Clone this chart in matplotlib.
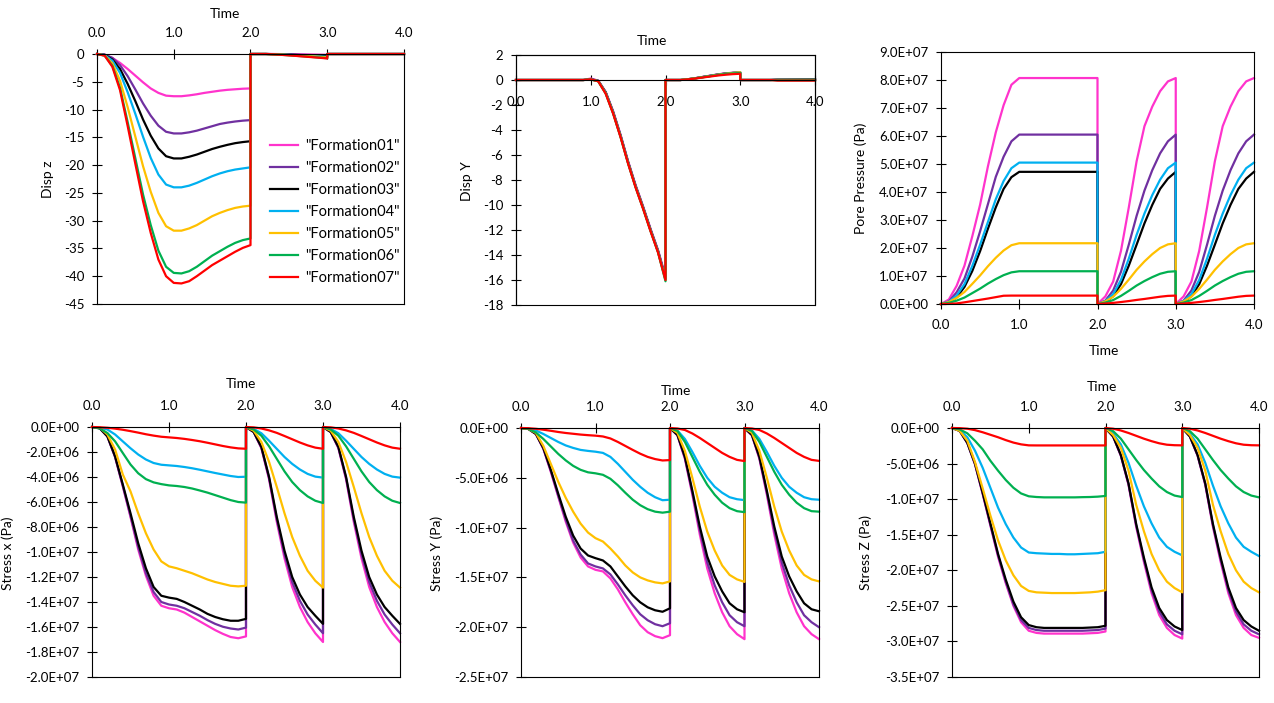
import matplotlib.pyplot as plt
from matplotlib.ticker import FixedLocator, FuncFormatter

plt.rcParams['font.family'] = ['Lato', 'DejaVu Sans']

names = ['"Formation01"', '"Formation02"', '"Formation03"', '"Formation04"',
         '"Formation05"', '"Formation06"', '"Formation07"']
colors = ['#FF33CC', '#7030A0', '#000000', '#00B0F0', '#FFC000', '#00B050', '#FF0000']

# time grids (the repeated 2.0 / 3.0 give the vertical jumps)
t_full = [0.0, 0.1, 0.2, 0.3, 0.4, 0.5, 0.6, 0.7, 0.8, 0.9, 1.0,
          1.1, 1.2, 1.3, 1.4, 1.5, 1.6, 1.7, 1.8, 1.9, 2.0,
          2.0, 2.1, 2.2, 2.3, 2.4, 2.5, 2.6, 2.7, 2.8, 2.9, 3.0,
          3.0, 3.1, 3.2, 3.3, 3.4, 3.5, 3.6, 3.7, 3.8, 3.9, 4.0]
t_dispy = [0.0, 0.9, 1.0, 1.1, 1.2, 1.3, 1.4, 1.5, 1.6, 1.7, 1.8, 1.9, 2.0,
           2.0, 2.1, 2.2, 2.3, 2.4, 2.5, 2.6, 2.7, 2.8, 2.9, 3.0,
           3.0, 3.4, 3.5, 4.0]
t_pore = [0.0, 0.1, 0.2, 0.3, 0.4, 0.5, 0.6, 0.7, 0.8, 0.9, 1.0, 2.0,
          2.0, 2.1, 2.2, 2.3, 2.4, 2.5, 2.6, 2.7, 2.8, 2.9, 3.0,
          3.0, 3.1, 3.2, 3.3, 3.4, 3.5, 3.6, 3.7, 3.8, 3.9, 4.0]

disp_z = [
    [0, -0.15, -0.7, -1.6, -2.7, -3.9, -5.1, -6.2, -7.0, -7.5, -7.6, -7.6, -7.45, -7.25, -7.0, -6.8, -6.6, -6.45, -6.35, -6.25, -6.2,
     0, 0, 0, 0, -0.02, -0.04, -0.06, -0.08, -0.1, -0.12, -0.15,
     0, 0, 0, 0, 0, 0, 0, 0, 0, 0, 0],
    [0, -0.1, -0.7, -2.0, -4.0, -6.4, -8.9, -11.1, -12.9, -14.0, -14.3, -14.3, -14.1, -13.8, -13.4, -13.0, -12.6, -12.35, -12.15, -12.0, -11.9,
     0, 0, 0, -0.02, -0.05, -0.08, -0.12, -0.16, -0.2, -0.25, -0.3,
     0, 0, 0, 0, 0, 0, 0, 0, 0, 0, 0],
    [0, -0.15, -1.0, -2.7, -5.4, -8.5, -11.8, -14.7, -17.0, -18.4, -18.8, -18.8, -18.5, -18.1, -17.6, -17.1, -16.7, -16.35, -16.05, -15.85, -15.7,
     0, 0, 0, -0.03, -0.07, -0.12, -0.17, -0.22, -0.28, -0.34, -0.4,
     0, 0, 0, 0, 0, 0, 0, 0, 0, 0, 0],
    [0, -0.2, -1.2, -3.4, -6.9, -10.8, -14.9, -18.7, -21.7, -23.5, -24.0, -24.0, -23.7, -23.2, -22.6, -22.0, -21.5, -21.1, -20.8, -20.6, -20.4,
     0, 0, 0, -0.04, -0.09, -0.15, -0.21, -0.28, -0.35, -0.43, -0.5,
     0, 0, 0, 0, 0, 0, 0, 0, 0, 0, 0],
    [0, -0.25, -1.7, -4.8, -9.6, -14.9, -20.2, -24.8, -28.6, -31.0, -31.8, -31.8, -31.4, -30.8, -30.0, -29.2, -28.6, -28.1, -27.7, -27.45, -27.3,
     0, 0, 0, -0.05, -0.11, -0.18, -0.26, -0.34, -0.42, -0.51, -0.6,
     0, 0, 0, 0, 0, 0, 0, 0, 0, 0, 0],
    [0, -0.3, -2.1, -6.1, -12.3, -18.8, -25.3, -30.8, -35.4, -38.3, -39.4, -39.5, -39.1, -38.3, -37.3, -36.3, -35.5, -34.7, -34.0, -33.5, -33.2,
     0, 0, 0, -0.06, -0.14, -0.23, -0.33, -0.43, -0.53, -0.64, -0.75,
     0, 0, 0, 0, 0, 0, 0, 0, 0, 0, 0],
    [0, -0.3, -2.3, -6.5, -13.0, -19.8, -26.5, -32.2, -37.0, -40.0, -41.2, -41.3, -40.9, -40.0, -39.0, -38.0, -37.2, -36.4, -35.6, -34.9, -34.4,
     0, 0, 0, -0.07, -0.15, -0.25, -0.35, -0.46, -0.57, -0.68, -0.8,
     0, 0, 0, 0, 0, 0, 0, 0, 0, 0, 0],
]

disp_y = [
    [0, 0, 0.12, -0.05, -0.95, -2.5, -4.4, -6.5, -8.4, -10.1, -11.9, -13.6, -15.7,
     0, 0, 0, 0.06, 0.15, 0.25, 0.35, 0.45, 0.53, 0.58, 0.6, 0, 0, 0.03, 0.05],
    [0, 0, 0.08, -0.06, -0.98, -2.55, -4.45, -6.55, -8.45, -10.15, -11.95, -13.65, -15.8,
     0, 0, 0, 0.06, 0.14, 0.24, 0.34, 0.44, 0.52, 0.57, 0.6, 0, 0, 0.03, 0.05],
    [0, 0, 0.05, -0.07, -1.0, -2.6, -4.5, -6.6, -8.5, -10.2, -12.0, -13.7, -15.9,
     0, 0, 0, 0.06, 0.14, 0.24, 0.33, 0.43, 0.51, 0.56, 0.6, 0, 0, 0.03, 0.05],
    [0, 0, 0.05, -0.08, -1.02, -2.62, -4.52, -6.62, -8.52, -10.22, -12.02, -13.72, -15.9,
     0, 0, 0, 0.06, 0.14, 0.23, 0.33, 0.42, 0.5, 0.56, 0.62, 0, 0, 0.02, 0.02],
    [0, 0, 0.04, -0.09, -1.05, -2.65, -4.55, -6.65, -8.55, -10.25, -12.05, -13.75, -16.0,
     0, 0, 0, 0.06, 0.14, 0.23, 0.32, 0.42, 0.5, 0.56, 0.62, 0, 0, 0.01, 0.01],
    [0, 0, 0.04, -0.1, -1.08, -2.68, -4.58, -6.68, -8.58, -10.28, -12.08, -13.78, -16.1,
     0, 0, 0, 0.05, 0.13, 0.22, 0.31, 0.4, 0.48, 0.53, 0.56, 0, 0, -0.02, -0.02],
    [0, 0, 0.05, -0.1, -1.1, -2.7, -4.6, -6.7, -8.6, -10.3, -12.1, -13.8, -16.0,
     0, 0, 0, 0.05, 0.12, 0.2, 0.28, 0.36, 0.42, 0.47, 0.5, 0, 0, -0.05, -0.05],
]

# pore pressure in MPa
pore = [
    [0, 1.6, 6.5, 13.7, 24.2, 35.5, 49.2, 61.3, 71.0, 78.3, 80.7, 80.7,
     0, 2.7, 8.0, 19.0, 34.5, 51.0, 63.5, 70.5, 76.0, 79.5, 80.7,
     0, 2.7, 8.0, 19.0, 34.5, 51.0, 63.5, 70.5, 76.0, 79.5, 80.7],
    [0, 0.9, 4.2, 9.1, 16.9, 26.0, 35.7, 45.4, 52.6, 58.1, 60.5, 60.5,
     0, 1.2, 4.8, 11.5, 21.2, 31.5, 40.5, 47.8, 53.8, 58.1, 60.5,
     0, 1.2, 4.8, 11.5, 21.2, 31.5, 40.5, 47.8, 53.8, 58.1, 60.5],
    [0, 0.5, 2.4, 6.1, 11.8, 18.9, 26.9, 34.5, 41.1, 45.3, 47.2, 47.2,
     0, 0.7, 2.8, 7.1, 13.7, 21.2, 28.8, 35.4, 41.1, 44.8, 47.2,
     0, 0.7, 2.8, 7.1, 13.7, 21.2, 28.8, 35.4, 41.1, 44.8, 47.2],
    [0, 0.8, 3.0, 7.1, 13.6, 21.2, 29.3, 37.4, 43.9, 48.5, 50.5, 50.5,
     0, 1.0, 3.5, 8.6, 16.2, 24.7, 32.3, 38.9, 44.4, 48.5, 50.5,
     0, 1.0, 3.5, 8.6, 16.2, 24.7, 32.3, 38.9, 44.4, 48.5, 50.5],
    [0, 0.7, 2.2, 4.3, 7.2, 10.2, 13.5, 16.5, 19.1, 21.0, 21.7, 21.7,
     0, 0.9, 2.6, 5.4, 8.7, 12.2, 15.2, 17.8, 20.0, 21.3, 21.7,
     0, 0.9, 2.6, 5.4, 8.7, 12.2, 15.2, 17.8, 20.0, 21.3, 21.7],
    [0, 0.4, 1.2, 2.3, 3.9, 5.5, 7.3, 8.9, 10.3, 11.3, 11.7, 11.7,
     0, 0.5, 1.4, 2.9, 4.7, 6.6, 8.2, 9.6, 10.8, 11.5, 11.7,
     0, 0.5, 1.4, 2.9, 4.7, 6.6, 8.2, 9.6, 10.8, 11.5, 11.7],
    [0, 0.03, 0.2, 0.6, 1.05, 1.5, 1.95, 2.45, 2.95, 3.0, 3.0, 3.0,
     0, 0.15, 0.4, 0.7, 1.05, 1.45, 1.8, 2.2, 2.6, 2.9, 3.0,
     0, 0.15, 0.4, 0.7, 1.05, 1.45, 1.8, 2.2, 2.6, 2.9, 3.0],
]

# stresses in MPa
stress_x = [
    [0, -0.1, -0.75, -2.4, -4.75, -7.2, -9.8, -11.9, -13.5, -14.3, -14.5, -14.6, -14.85, -15.2, -15.55, -15.9, -16.25, -16.55, -16.8, -16.9, -16.75,
     0, -0.4, -1.7, -4.2, -7.6, -10.5, -12.8, -14.4, -15.6, -16.5, -17.2,
     0, -0.4, -1.7, -4.2, -7.6, -10.5, -12.8, -14.4, -15.6, -16.5, -17.2],
    [0, -0.1, -0.75, -2.4, -4.7, -7.1, -9.6, -11.7, -13.2, -14.0, -14.2, -14.3, -14.5, -14.8, -15.1, -15.45, -15.75, -15.98, -16.12, -16.2, -16.05,
     0, -0.4, -1.65, -4.1, -7.4, -10.2, -12.4, -13.9, -15.0, -15.8, -16.5,
     0, -0.4, -1.65, -4.1, -7.4, -10.2, -12.4, -13.9, -15.0, -15.8, -16.5],
    [0, -0.1, -0.75, -2.35, -4.6, -6.9, -9.3, -11.3, -12.8, -13.5, -13.65, -13.75, -14.0, -14.3, -14.6, -14.95, -15.2, -15.38, -15.5, -15.5, -15.35,
     0, -0.4, -1.6, -4.0, -7.2, -9.9, -12.0, -13.4, -14.4, -15.1, -15.75,
     0, -0.4, -1.6, -4.0, -7.2, -9.9, -12.0, -13.4, -14.4, -15.1, -15.75],
    [0, -0.05, -0.2, -0.6, -1.15, -1.7, -2.2, -2.6, -2.88, -3.02, -3.07, -3.12, -3.2, -3.3, -3.42, -3.55, -3.68, -3.8, -3.92, -4.0, -3.98,
     0, -0.15, -0.5, -1.1, -1.75, -2.4, -2.95, -3.4, -3.75, -3.97, -4.05,
     0, -0.15, -0.5, -1.1, -1.75, -2.4, -2.95, -3.4, -3.75, -3.97, -4.05],
    [0, -0.05, -0.6, -1.8, -3.8, -5.15, -6.9, -8.5, -9.8, -10.75, -11.15, -11.3, -11.5, -11.7, -11.95, -12.2, -12.4, -12.55, -12.7, -12.75, -12.7,
     0, -0.3, -1.2, -2.8, -4.8, -6.9, -8.8, -10.3, -11.5, -12.3, -12.85,
     0, -0.3, -1.2, -2.8, -4.8, -6.9, -8.8, -10.3, -11.5, -12.3, -12.85],
    [0, -0.12, -0.48, -1.15, -2.08, -3.0, -3.7, -4.17, -4.43, -4.57, -4.67, -4.72, -4.8, -4.92, -5.08, -5.25, -5.45, -5.65, -5.85, -6.0, -6.05,
     0, -0.2, -0.7, -1.55, -2.55, -3.55, -4.4, -5.05, -5.55, -5.9, -6.08,
     0, -0.2, -0.7, -1.55, -2.55, -3.55, -4.4, -5.05, -5.55, -5.9, -6.08],
    [0, -0.02, -0.06, -0.13, -0.22, -0.33, -0.45, -0.58, -0.69, -0.78, -0.83, -0.88, -0.95, -1.04, -1.14, -1.26, -1.39, -1.52, -1.63, -1.71, -1.74,
     0, -0.03, -0.12, -0.27, -0.47, -0.72, -0.98, -1.24, -1.47, -1.65, -1.74,
     0, -0.03, -0.12, -0.27, -0.47, -0.72, -0.98, -1.24, -1.47, -1.65, -1.74],
]

stress_y = [
    [0, -0.1, -0.6, -2.1, -4.4, -6.9, -9.4, -11.5, -13.0, -13.9, -14.24, -14.4, -15.1, -16.2, -17.5, -18.7, -19.8, -20.5, -20.9, -21.1, -20.8,
     0, -0.75, -3.1, -6.7, -10.7, -14.1, -16.6, -18.5, -19.9, -20.7, -21.2,
     0, -0.75, -3.1, -6.7, -10.7, -14.1, -16.6, -18.5, -19.9, -20.7, -21.2],
    [0, -0.1, -0.6, -2.05, -4.3, -6.8, -9.2, -11.3, -12.7, -13.6, -13.9, -14.1, -14.7, -15.7, -16.8, -17.8, -18.7, -19.3, -19.7, -19.9, -19.6,
     0, -0.7, -3.0, -6.5, -10.3, -13.5, -15.8, -17.5, -18.8, -19.5, -19.9,
     0, -0.7, -3.0, -6.5, -10.3, -13.5, -15.8, -17.5, -18.8, -19.5, -20.0],
    [0, -0.1, -0.6, -2.0, -4.2, -6.6, -8.9, -10.8, -12.1, -12.8, -13.07, -13.3, -13.9, -14.9, -15.9, -16.8, -17.5, -18.0, -18.3, -18.45, -18.1,
     0, -0.7, -2.9, -6.3, -9.9, -12.9, -14.9, -16.4, -17.6, -18.2, -18.5,
     0, -0.7, -2.9, -6.3, -9.9, -12.9, -14.9, -16.4, -17.6, -18.2, -18.4],
    [0, -0.05, -0.25, -0.6, -1.0, -1.4, -1.75, -2.0, -2.2, -2.3, -2.38, -2.5, -2.9, -3.6, -4.4, -5.2, -5.9, -6.5, -6.95, -7.25, -7.2,
     0, -0.25, -1.1, -2.4, -3.8, -5.0, -5.9, -6.5, -6.95, -7.15, -7.24,
     0, -0.25, -1.1, -2.4, -3.8, -5.0, -5.9, -6.5, -6.95, -7.15, -7.2],
    [0, -0.1, -0.5, -1.8, -3.6, -5.4, -7.0, -8.4, -9.6, -10.5, -11.06, -11.4, -12.1, -12.9, -13.8, -14.5, -15.0, -15.3, -15.5, -15.6, -15.4,
     0, -0.5, -2.3, -5.0, -7.9, -10.4, -12.3, -13.8, -14.75, -15.2, -15.45,
     0, -0.5, -2.3, -5.0, -7.9, -10.4, -12.3, -13.8, -14.75, -15.2, -15.4],
    [0, -0.1, -0.45, -1.1, -1.85, -2.6, -3.25, -3.8, -4.2, -4.45, -4.55, -4.7, -5.1, -5.75, -6.5, -7.2, -7.75, -8.15, -8.4, -8.5, -8.4,
     0, -0.3, -1.4, -2.9, -4.4, -5.7, -6.7, -7.5, -8.05, -8.35, -8.45,
     0, -0.3, -1.4, -2.9, -4.4, -5.7, -6.7, -7.5, -8.05, -8.35, -8.4],
    [0, -0.02, -0.08, -0.17, -0.28, -0.4, -0.5, -0.58, -0.66, -0.72, -0.77, -0.85, -1.05, -1.4, -1.8, -2.2, -2.58, -2.9, -3.12, -3.26, -3.22,
     0, -0.05, -0.2, -0.55, -1.0, -1.5, -2.0, -2.5, -2.9, -3.2, -3.32,
     0, -0.05, -0.2, -0.55, -1.0, -1.5, -2.0, -2.5, -2.9, -3.2, -3.3],
]

stress_z = [
    [0, -0.4, -2.1, -5.1, -9.3, -13.7, -18.1, -21.8, -25.0, -27.3, -28.5, -28.8, -28.9, -28.9, -28.9, -28.9, -28.9, -28.9, -28.85, -28.8, -28.6,
     0, -1.2, -3.9, -8.0, -13.9, -18.8, -23.2, -26.3, -28.1, -29.1, -29.6,
     0, -1.2, -3.9, -8.0, -13.9, -18.8, -23.2, -26.3, -28.1, -29.1, -29.5],
    [0, -0.4, -2.1, -5.1, -9.2, -13.6, -17.9, -21.6, -24.8, -27.0, -28.1, -28.4, -28.5, -28.5, -28.5, -28.5, -28.5, -28.5, -28.45, -28.4, -28.2,
     0, -1.2, -3.85, -7.9, -13.7, -18.5, -22.8, -25.8, -27.6, -28.5, -29.0,
     0, -1.2, -3.85, -7.9, -13.7, -18.5, -22.8, -25.8, -27.6, -28.5, -29.0],
    [0, -0.4, -2.1, -5.0, -9.1, -13.4, -17.7, -21.3, -24.4, -26.6, -27.7, -28.0, -28.1, -28.1, -28.1, -28.1, -28.1, -28.1, -28.05, -28.0, -27.8,
     0, -1.2, -3.8, -7.8, -13.5, -18.2, -22.4, -25.3, -27.0, -27.9, -28.4,
     0, -1.2, -3.8, -7.8, -13.5, -18.2, -22.4, -25.3, -27.0, -27.9, -28.5],
    [0, -0.3, -1.3, -3.2, -5.6, -8.4, -11.2, -13.5, -15.4, -16.8, -17.5, -17.6, -17.65, -17.7, -17.7, -17.75, -17.75, -17.7, -17.65, -17.6, -17.4,
     0, -0.8, -2.3, -4.9, -8.1, -11.0, -13.4, -15.4, -16.7, -17.4, -17.9,
     0, -0.8, -2.3, -4.9, -8.1, -11.0, -13.4, -15.4, -16.7, -17.4, -18.0],
    [0, -0.4, -1.8, -4.8, -8.5, -12.3, -15.8, -18.6, -20.7, -22.2, -22.9, -23.1, -23.15, -23.2, -23.2, -23.2, -23.2, -23.15, -23.1, -23.0, -22.8,
     0, -1.0, -2.8, -6.0, -10.8, -14.5, -17.7, -20.0, -21.6, -22.5, -23.1,
     0, -1.0, -2.8, -6.0, -10.8, -14.5, -17.7, -20.0, -21.6, -22.5, -23.1],
    [0, -0.2, -0.75, -1.8, -3.0, -4.6, -6.0, -7.3, -8.4, -9.2, -9.6, -9.7, -9.75, -9.75, -9.75, -9.75, -9.75, -9.72, -9.7, -9.65, -9.55,
     0, -0.45, -1.5, -3.0, -4.5, -5.9, -7.1, -8.2, -9.0, -9.5, -9.71,
     0, -0.45, -1.5, -3.0, -4.5, -5.9, -7.1, -8.2, -9.0, -9.5, -9.75],
    [0, -0.02, -0.1, -0.3, -0.6, -0.95, -1.3, -1.7, -2.05, -2.3, -2.44, -2.45, -2.45, -2.45, -2.45, -2.45, -2.45, -2.45, -2.45, -2.45, -2.45,
     0, -0.1, -0.35, -0.7, -1.1, -1.5, -1.85, -2.15, -2.35, -2.42, -2.44,
     0, -0.1, -0.35, -0.7, -1.1, -1.5, -1.85, -2.15, -2.35, -2.42, -2.44],
]

W, H = 1274, 703
fig = plt.figure(figsize=(W / 100, H / 100), dpi=100)


def px_axes(left, top, right, bottom):
    return fig.add_axes([left / W, 1 - bottom / H, (right - left) / W, (bottom - top) / H])


def efmt(v, p):
    return f'{v:.1E}'


def ifmt(v, p):
    return f'{v:.0f}'


def style(ax, ylim, yticks, yfmt, xside):
    ax.set_xlim(0, 4)
    ax.set_ylim(*ylim)
    ax.xaxis.set_major_locator(FixedLocator([0, 1, 2, 3, 4]))
    ax.xaxis.set_major_formatter(FuncFormatter(lambda v, p: f'{v:.1f}'))
    ax.yaxis.set_major_locator(FixedLocator(yticks))
    ax.yaxis.set_major_formatter(FuncFormatter(yfmt))
    for s in ax.spines.values():
        s.set_linewidth(0.8)
    ax.tick_params(axis='both', direction='inout', length=6.5, width=0.8, labelsize=9.5)
    ax.tick_params(axis='y', pad=6)
    ax.tick_params(axis='x', pad=7.5)
    if xside == 'top':
        ax.xaxis.set_ticks_position('top')
    elif xside == 'zero':
        ax.spines['bottom'].set_position(('data', 0))
        ax.patch.set_edgecolor('black')
        ax.patch.set_linewidth(0.8)
        ax.tick_params(axis='x', pad=8)


def lines(ax, t, series, scale=1.0):
    for i in range(7):
        ax.plot(t, [v * scale for v in series[i]], color=colors[i], lw=1.6,
                label=names[i], clip_on=False)


def ftext(x, y, s, rot=0):
    fig.text(x / W, 1 - y / H, s, ha='center', va='center', rotation=rot, fontsize=10)


# Disp z
ax1 = px_axes(97, 54, 404, 304)
lines(ax1, t_full, disp_z)
style(ax1, (-45, 0), list(range(-45, 1, 5)), ifmt, 'top')
ax1.legend(loc='upper left', bbox_to_anchor=(270 / W, 1 - 139 / H), bbox_transform=fig.transFigure,
           frameon=False, fontsize=10.5, handlelength=1.95, handletextpad=0.45,
           labelspacing=0.55, borderpad=0, borderaxespad=0)
ftext(225, 14, 'Time')
ftext(48, 179, 'Disp z', 90)

# Disp Y
ax2 = px_axes(516, 55, 815, 305)
lines(ax2, t_dispy, disp_y)
style(ax2, (-18, 2), list(range(-18, 3, 2)), ifmt, 'zero')
ftext(652, 41, 'Time')
ftext(467, 181, 'Disp Y', 90)

# Pore pressure
ax3 = px_axes(941, 52, 1254, 304)
lines(ax3, t_pore, pore, 1e6)
style(ax3, (0, 9e7), [i * 1e7 for i in range(10)], efmt, 'bottom')
ftext(1104, 351, 'Time')
ftext(861, 178, 'Pore Pressure (Pa)', 90)

# Stress x
ax4 = px_axes(92, 427, 400, 677)
lines(ax4, t_full, stress_x, 1e6)
style(ax4, (-2e7, 0), [-i * 2e6 for i in range(11)], efmt, 'top')
ftext(241, 384, 'Time')
ftext(8, 553, 'Stress x (Pa)', 90)

# Stress Y
ax5 = px_axes(521, 428, 819, 677)
lines(ax5, t_full, stress_y, 1e6)
style(ax5, (-2.5e7, 0), [-i * 5e6 for i in range(6)], efmt, 'top')
ftext(676, 391, 'Time')
ftext(437, 553, 'Stress Y (Pa)', 90)

# Stress Z
ax6 = px_axes(952, 428, 1259, 677)
lines(ax6, t_full, stress_z, 1e6)
style(ax6, (-3.5e7, 0), [-i * 5e6 for i in range(8)], efmt, 'top')
ftext(1102, 387, 'Time')
ftext(866, 552, 'Stress Z (Pa)', 90)

fig.savefig('out.png', dpi=100)
